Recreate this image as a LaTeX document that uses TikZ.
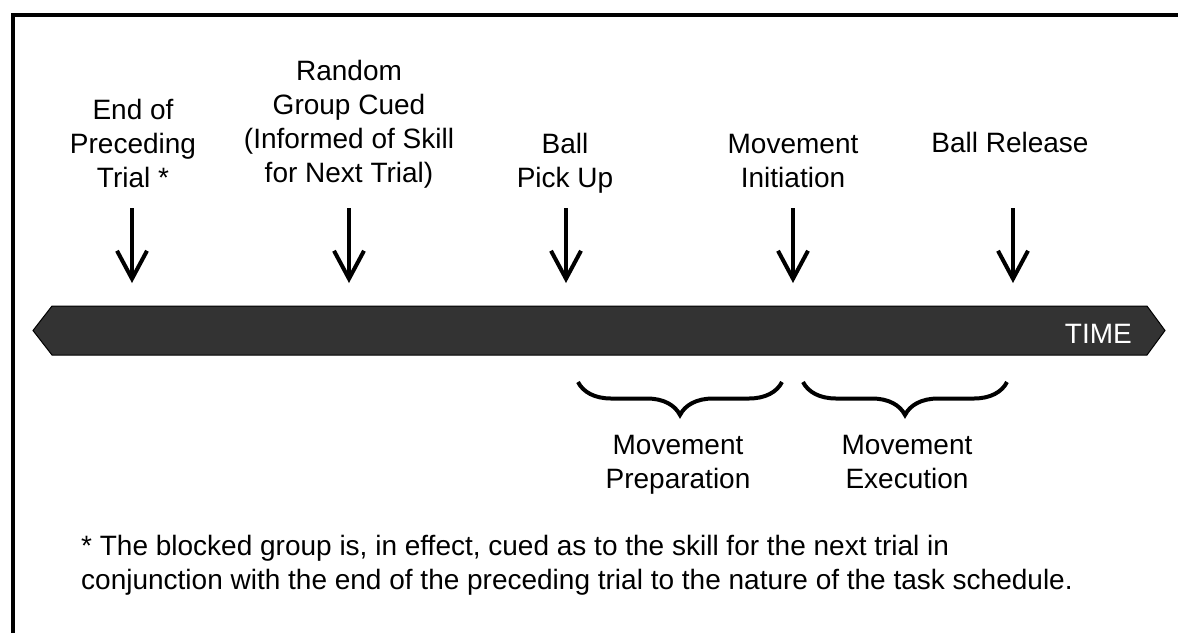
\documentclass[tikz,border=0pt]{standalone}
\usepackage{fontspec}
\setmainfont{Liberation Sans}
\usetikzlibrary{arrows.meta,decorations.pathreplacing}
\definecolor{barfill}{HTML}{333333}
\tikzset{
  lbl/.style={font=\fontsize{28}{34}\selectfont, align=center, inner sep=0pt},
  tick/.style={line width=4pt, -{Straight Barb[length=28pt,width=30pt]}},
  span/.style={line width=4pt, decorate, decoration={brace,mirror,amplitude=33pt}},
}
\begin{document}
\begin{tikzpicture}[x=1pt,y=-1pt]
  \useasboundingbox (0,0) rectangle (1178,633);
  % frame
  \draw[line width=4pt] (13,633) -- (13,15.3) -- (1178,15.3);
  % time bar
  \draw[fill=barfill,line width=1pt] (33,330.5) -- (52,306) -- (1147,306)
    -- (1165,330.5) -- (1147,355) -- (52,355) -- cycle;
  \node[lbl,text=white,anchor=base east] (time) at (1132,343) {TIME};
  % events
  \node[lbl,anchor=base] (end) at (133,187) {End of\\Preceding\\Trial *};
  \node[lbl,anchor=base] (cue) at (349,182) {Random\\Group Cued\\(Informed of Skill\\for Next Trial)};
  \node[lbl,anchor=base] (pick) at (565,187) {Ball\\Pick Up};
  \node[lbl,anchor=base] (init) at (793,187) {Movement\\Initiation};
  \node[lbl,anchor=base] (rel) at (1010,152) {Ball Release};
  \coordinate (a1) at (132,208);
  \coordinate (b1) at (132,283);
  \coordinate (a2) at (349,208);
  \coordinate (b2) at (349,283);
  \coordinate (a3) at (566,208);
  \coordinate (b3) at (566,283);
  \coordinate (a4) at (793,208);
  \coordinate (b4) at (793,283);
  \coordinate (a5) at (1013,208);
  \coordinate (b5) at (1013,283);
  \draw[tick] (a1) -- (b1);
  \draw[tick] (a2) -- (b2);
  \draw[tick] (a3) -- (b3);
  \draw[tick] (a4) -- (b4);
  \draw[tick] (a5) -- (b5);
  % phases
  \coordinate (p0) at (578,382);
  \coordinate (p1) at (782,382);
  \coordinate (e0) at (803,382);
  \coordinate (e1) at (1007,382);
  \draw[span] (p0) -- (p1);
  \draw[span] (e0) -- (e1);
  \node[lbl,anchor=base] (prep) at (678,488) {Movement\\Preparation};
  \node[lbl,anchor=base] (exec) at (907,488) {Movement\\Execution};
  % footnote
  \node[lbl,align=left,anchor=base west] (note) at (81,589)
    {* The blocked group is, in effect, cued as to the skill for the next trial in\\
     conjunction with the end of the preceding trial to the nature of the task schedule.};
\end{tikzpicture}
\end{document}
